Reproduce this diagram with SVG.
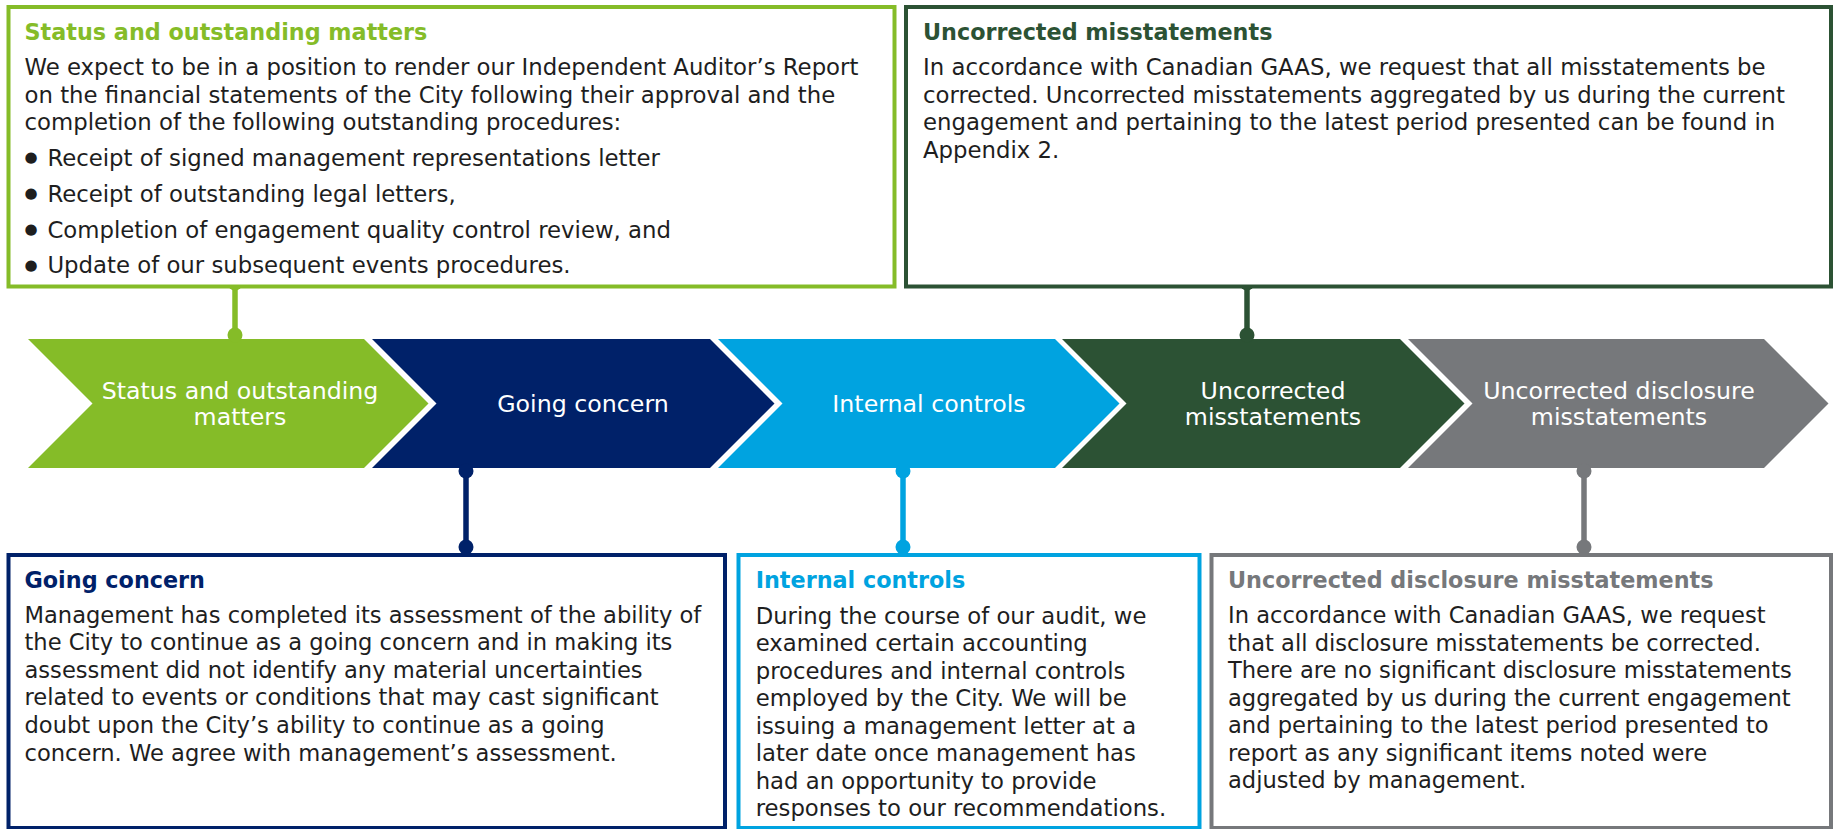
<svg xmlns="http://www.w3.org/2000/svg" width="1834" height="829" viewBox="0 0 1834 829">
<style>
.box{fill:#ffffff;stroke-width:4}
.t{font-family:"DejaVu Sans",Verdana,sans-serif;font-size:22.3px;font-weight:bold}
.b{font-family:"DejaVu Sans",Verdana,sans-serif;font-size:22.6px;fill:#1e1e1e}
.bt{font-family:"DejaVu Sans",Verdana,sans-serif;font-size:22.8px;fill:#1e1e1e}
.bi{font-family:"DejaVu Sans",Verdana,sans-serif;font-size:22.75px;fill:#1e1e1e}
.bul{font-family:"DejaVu Sans",sans-serif;font-size:15px;fill:#1e1e1e}
.c{font-family:"DejaVu Sans",Verdana,sans-serif;font-size:23.7px;fill:#ffffff;text-anchor:middle}
.ln{stroke-width:5.5;fill:none}
</style>
<rect width="1834" height="829" fill="#ffffff"/>

<g id="chevron-status">
<polygon points="28,339 364,339 428.5,403.5 364,468 28,468 92.5,403.5" fill="#85BC28"/>
<text class="c" x="240" y="398.5">Status and outstanding</text>
<text class="c" x="240" y="424.5">matters</text>
</g>
<g id="chevron-going">
<polygon points="372,339 710,339 774.5,403.5 710,468 372,468 436.5,403.5" fill="#002169"/>
<text class="c" x="583" y="411.7">Going concern</text>
</g>
<g id="chevron-internal">
<polygon points="718,339 1055,339 1119.5,403.5 1055,468 718,468 782.5,403.5" fill="#00A3E0"/>
<text class="c" x="929" y="411.7">Internal controls</text>
</g>
<g id="chevron-uncorrected">
<polygon points="1062,339 1400,339 1464.5,403.5 1400,468 1062,468 1126.5,403.5" fill="#2C5234"/>
<text class="c" x="1273" y="398.5">Uncorrected</text>
<text class="c" x="1273" y="424.5">misstatements</text>
</g>
<g id="chevron-disclosure">
<polygon points="1408,339 1764,339 1828.5,403.5 1764,468 1408,468 1472.5,403.5" fill="#76787B"/>
<text class="c" x="1619" y="398.5">Uncorrected disclosure</text>
<text class="c" x="1619" y="424.5">misstatements</text>
</g>

<g id="connectors">
<line class="ln" x1="235" y1="283" x2="235" y2="335" stroke="#85BC28"/>
<circle cx="235" cy="283" r="7.5" fill="#85BC28"/>
<circle cx="235" cy="335" r="7.5" fill="#85BC28"/>
<line class="ln" x1="1247" y1="283" x2="1247" y2="335" stroke="#2C5234"/>
<circle cx="1247" cy="283" r="7.5" fill="#2C5234"/>
<circle cx="1247" cy="335" r="7.5" fill="#2C5234"/>
<line class="ln" x1="466" y1="471" x2="466" y2="547" stroke="#002169"/>
<circle cx="466" cy="471" r="7.5" fill="#002169"/>
<circle cx="466" cy="547" r="7.5" fill="#002169"/>
<line class="ln" x1="903" y1="471" x2="903" y2="547" stroke="#00A3E0"/>
<circle cx="903" cy="471" r="7.5" fill="#00A3E0"/>
<circle cx="903" cy="547" r="7.5" fill="#00A3E0"/>
<line class="ln" x1="1584" y1="471" x2="1584" y2="547" stroke="#76787B"/>
<circle cx="1584" cy="471" r="7.5" fill="#76787B"/>
<circle cx="1584" cy="547" r="7.5" fill="#76787B"/>
</g>

<g id="box-status">
<rect class="box" x="8.5" y="7" width="886" height="279.5" stroke="#85BC28"/>
<text class="t" x="24.5" y="40" fill="#85BC28">Status and outstanding matters</text>
<text class="bt" x="24.5" y="75">We expect to be in a position to render our Independent Auditor’s Report</text>
<text class="bt" x="24.5" y="102.7">on the financial statements of the City following their approval and the</text>
<text class="bt" x="24.5" y="130.4">completion of the following outstanding procedures:</text>
<text class="bul" x="24.5" y="162">●</text>
<text class="bt" x="47.4" y="165.5">Receipt of signed management representations letter</text>
<text class="bul" x="24.5" y="198">●</text>
<text class="bt" x="47.4" y="201.5">Receipt of outstanding legal letters,</text>
<text class="bul" x="24.5" y="234">●</text>
<text class="bt" x="47.4" y="237.5">Completion of engagement quality control review, and</text>
<text class="bul" x="24.5" y="270">●</text>
<text class="bt" x="47.4" y="273.3">Update of our subsequent events procedures.</text>
</g>

<g id="box-uncorrected">
<rect class="box" x="906" y="7" width="925" height="279.5" stroke="#2C5234"/>
<text class="t" x="923" y="40" fill="#2C5234">Uncorrected misstatements</text>
<text class="bt" x="923" y="75">In accordance with Canadian GAAS, we request that all misstatements be</text>
<text class="bt" x="923" y="102.7">corrected. Uncorrected misstatements aggregated by us during the current</text>
<text class="bt" x="923" y="130.4">engagement and pertaining to the latest period presented can be found in</text>
<text class="bt" x="923" y="158">Appendix 2.</text>
</g>

<g id="box-going">
<rect class="box" x="8.5" y="555" width="716.5" height="273" stroke="#002169"/>
<text class="t" x="24.5" y="588" fill="#002169">Going concern</text>
<text class="b" x="24.5" y="622.5">Management has completed its assessment of the ability of</text>
<text class="b" x="24.5" y="650.1">the City to continue as a going concern and in making its</text>
<text class="b" x="24.5" y="677.7">assessment did not identify any material uncertainties</text>
<text class="b" x="24.5" y="705.3">related to events or conditions that may cast significant</text>
<text class="b" x="24.5" y="732.9">doubt upon the City’s ability to continue as a going</text>
<text class="b" x="24.5" y="760.5">concern. We agree with management’s assessment.</text>
</g>

<g id="box-internal">
<rect class="box" x="738.5" y="555" width="461" height="273" stroke="#00A3E0"/>
<text class="t" x="755.7" y="588.3" fill="#00A3E0">Internal controls</text>
<text class="bi" x="755.7" y="623.5">During the course of our audit, we</text>
<text class="bi" x="755.7" y="651">examined certain accounting</text>
<text class="bi" x="755.7" y="678.5">procedures and internal controls</text>
<text class="bi" x="755.7" y="706">employed by the City. We will be</text>
<text class="bi" x="755.7" y="733.5">issuing a management letter at a</text>
<text class="bi" x="755.7" y="761">later date once management has</text>
<text class="bi" x="755.7" y="788.5">had an opportunity to provide</text>
<text class="bi" x="755.7" y="816">responses to our recommendations.</text>
</g>

<g id="box-disclosure">
<rect class="box" x="1211.5" y="555" width="619.5" height="273" stroke="#76787B"/>
<text class="t" x="1228" y="588" fill="#76787B">Uncorrected disclosure misstatements</text>
<text class="b" x="1228" y="623">In accordance with Canadian GAAS, we request</text>
<text class="b" x="1228" y="650.5">that all disclosure misstatements be corrected.</text>
<text class="b" x="1228" y="678">There are no significant disclosure misstatements</text>
<text class="b" x="1228" y="705.5">aggregated by us during the current engagement</text>
<text class="b" x="1228" y="733">and pertaining to the latest period presented to</text>
<text class="b" x="1228" y="760.5">report as any significant items noted were</text>
<text class="b" x="1228" y="788">adjusted by management.</text>
</g>
</svg>
